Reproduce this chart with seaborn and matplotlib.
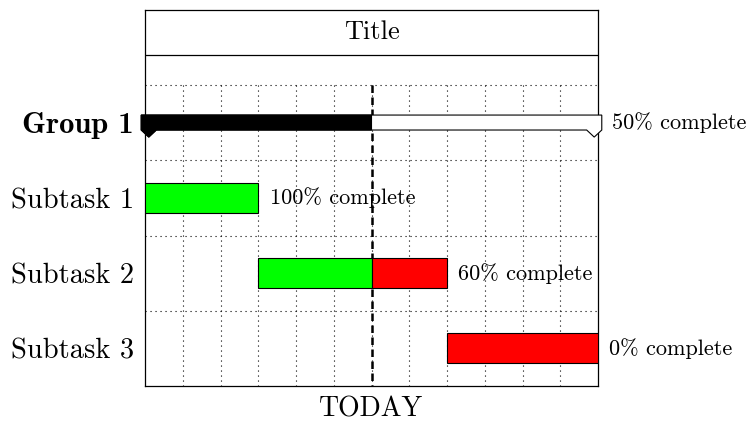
import numpy as np
import pandas as pd
import seaborn as sns
import matplotlib.pyplot as plt
from matplotlib.patches import Polygon

# gantt data
tasks = ["Group 1", "Subtask 1", "Subtask 2", "Subtask 3"]
starts = [0, 0, 3, 8]
ends = [12, 3, 8, 12]
progress = [50, 100, 60, 0]   # percent complete
today = 6
n_units = 12
chart_title = "Title"

df = pd.DataFrame({"task": tasks, "start": starts, "end": ends, "progress": progress})
df["row"] = np.arange(len(df))
df["done"] = df["start"] + df["progress"] / 100 * (df["end"] - df["start"])

sns.set_style("white")
plt.rcParams["font.family"] = ["cmr10", "DejaVu Serif"]
plt.rcParams["axes.formatter.use_mathtext"] = True
plt.rcParams["text.color"] = "black"
plt.rcParams["xtick.color"] = "black"
plt.rcParams["ytick.color"] = "black"

fig = plt.figure(figsize=(7.52, 4.23), dpi=100)
ax = fig.add_axes([145 / 752, 37 / 423, 453 / 752, 376 / 423])
ax.set_xlim(0, n_units)
ax.set_ylim(len(tasks) - 0.5, -1.5)

dot = (0, (1, 3.5))
# grid
ax.vlines(np.arange(1, n_units), -0.5, len(tasks) - 0.5, colors="black", lw=0.8, linestyles=dot, zorder=1)
ax.hlines(np.arange(len(tasks)) - 0.5, 0, n_units, colors="black", lw=0.8, linestyles=dot, zorder=1)

# title row
ax.axhline(-0.9, color="black", lw=0.9)
ax.text(n_units / 2, -1.2, chart_title, ha="center", va="center", fontsize=19)

# today line
ax.vlines(today, -0.5, len(tasks) - 0.5, colors="black", lw=1.8, linestyles=(0, (3, 1.8)), zorder=2)

# group bar
g = df.iloc[0]
top, bot, tip = -0.103, 0.096, 0.19
xl, xr, w = g["start"] - 0.1, g["end"] + 0.1, 0.4
outline = [(xl, top), (xr, top), (xr, bot), (xr - w / 2, tip), (xr - w, bot),
           (xl + w, bot), (xl + w / 2, tip), (xl, bot)]
ax.add_patch(Polygon(outline, closed=True, facecolor="white", edgecolor="black", lw=0.8, clip_on=False, zorder=4))
filled = [(xl, top), (g["done"], top), (g["done"], bot), (xl + w, bot), (xl + w / 2, tip), (xl, bot)]
ax.add_patch(Polygon(filled, closed=True, facecolor="black", edgecolor="black", lw=0.8, clip_on=False, zorder=5))
ax.text(xr + 0.28, g["row"], f"{g['progress']}% complete", ha="left", va="center", fontsize=16, clip_on=False)

# subtasks
sub = df.iloc[1:]
d = sub[sub["done"] > sub["start"]]
ax.barh(d["row"], d["done"] - d["start"], left=d["start"], height=0.4,
        color="#00ff00", edgecolor="black", lw=0.8, zorder=4)
r = sub[sub["end"] > sub["done"]]
ax.barh(r["row"], r["end"] - r["done"], left=r["done"], height=0.4,
        color="#ff0000", edgecolor="black", lw=0.8, zorder=4)
for _, t in sub.iterrows():
    ax.text(t["end"] + 0.3, t["row"], f"{t['progress']}% complete", ha="left", va="center", fontsize=16, clip_on=False)

# labels
ax.set_yticks(df["row"], tasks, fontsize=20.5)
lab0 = ax.get_yticklabels()[0]
lab0.set_fontfamily(["cmb10", "DejaVu Serif"])
lab0.set_fontsize(22)
ax.set_xticks([today], ["TODAY"], fontsize=20)
ax.tick_params(length=0)
ax.tick_params(axis="y", pad=8)
ax.tick_params(axis="x", pad=7)

for s in ax.spines.values():
    s.set_color("black")
    s.set_linewidth(0.9)

fig.savefig("out.png", dpi=100)
